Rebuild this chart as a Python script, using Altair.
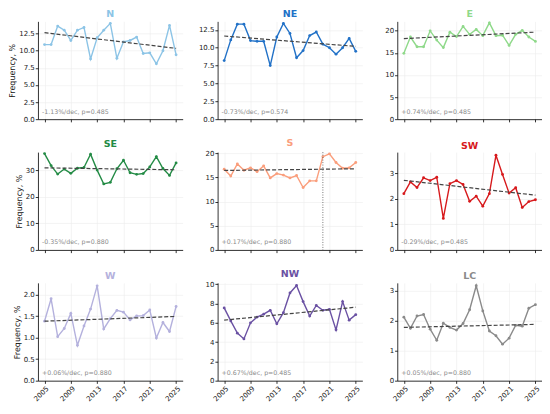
import altair as alt
import pandas as pd

FONT = "DejaVu Sans"

years = [2005, 2006, 2007, 2008, 2009, 2010, 2011, 2012, 2013, 2014, 2015,
         2016, 2017, 2018, 2019, 2020, 2021, 2022, 2023, 2024, 2025]
x_ticks = [2005, 2009, 2013, 2017, 2021, 2025]

names = ["N", "NE", "E", "SE", "S", "SW", "W", "NW", "LC"]
colors = ["#8cc4e6", "#2171c7", "#8fd98a", "#238b45", "#fa9e7c",
          "#d7191c", "#b4b1dd", "#6a51a3", "#8a8a8a"]

N = [10.9, 10.9, 13.6, 13.0, 11.5, 13.0, 13.4, 8.8, 11.9, 13.0, 14.0,
     8.9, 11.3, 11.5, 12.0, 9.6, 9.7, 8.1, 10.0, 13.7, 9.4]
NE = [8.2, 11.1, 13.3, 13.3, 11.0, 10.9, 10.9, 7.5, 11.5, 13.4, 12.0,
      8.6, 9.6, 11.7, 12.2, 10.5, 10.0, 9.1, 10.0, 11.3, 9.5]
E = [14.9, 18.6, 16.4, 16.4, 20.0, 17.9, 16.2, 19.7, 18.7, 21.0, 19.2,
     20.3, 18.9, 21.8, 18.9, 19.0, 16.7, 19.2, 20.1, 18.6, 17.6]
SE = [36.2, 31.7, 28.5, 30.4, 28.8, 30.7, 31.0, 36.0, 30.0, 24.8, 25.4,
      30.5, 33.7, 29.0, 28.4, 28.7, 31.2, 35.1, 30.6, 28.0, 32.7]
S = [16.7, 15.3, 17.8, 16.5, 17.0, 16.2, 17.4, 14.9, 15.8, 15.5, 14.9,
     15.4, 12.9, 14.3, 14.3, 19.3, 19.9, 18.1, 16.9, 17.0, 18.1]
SW = [2.20, 2.66, 2.44, 2.82, 2.71, 2.84, 1.23, 2.59, 2.71, 2.56, 1.90,
      2.10, 1.71, 2.20, 3.70, 2.95, 2.22, 2.43, 1.66, 1.89, 1.96]
W = [1.38, 1.90, 1.02, 1.21, 1.56, 0.82, 1.27, 1.66, 2.20, 1.20, 1.44,
     1.63, 1.59, 1.41, 1.50, 1.51, 1.64, 0.99, 1.35, 1.14, 1.72]
NW = [7.55, 6.20, 4.93, 4.33, 6.00, 6.60, 6.90, 7.30, 5.90, 7.05, 9.10,
      9.87, 8.20, 6.70, 7.80, 7.30, 7.40, 5.27, 8.20, 6.28, 6.85]
LC = [2.12, 1.75, 2.16, 2.21, 1.72, 1.35, 1.92, 1.78, 1.69, 1.91, 2.37,
      3.17, 2.33, 1.66, 1.50, 1.22, 1.42, 1.85, 1.82, 2.42, 2.54]
series = [N, NE, E, SE, S, SW, W, NW, LC]

trend_start = [12.64, 11.64, 18.24, 30.85, 16.45, 2.72, 1.38, 6.28, 1.78]
trend_end = [10.35, 10.19, 19.70, 30.12, 16.80, 2.14, 1.49, 7.62, 1.88]

trend_labels = ["-1.13%/dec, p=0.485", "-0.73%/dec, p=0.574", "+0.74%/dec, p=0.485",
                "-0.35%/dec, p=0.880", "+0.17%/dec, p=0.880", "-0.29%/dec, p=0.485",
                "+0.06%/dec, p=0.880", "+0.67%/dec, p=0.485", "+0.05%/dec, p=0.880"]

y_ticks = [[0, 2.5, 5, 7.5, 10, 12.5], [0, 2.5, 5, 7.5, 10, 12.5], [0, 5, 10, 15, 20],
           [0, 10, 20, 30], [0, 5, 10, 15, 20], [0, 1, 2, 3],
           [0, 0.5, 1.0, 1.5, 2.0], [0, 2, 4, 6, 8, 10], [0, 1, 2, 3]]
y_formats = [".1f", ".1f", "d", "d", "d", "d", ".1f", "d", "d"]

change_years = {"S": [2020]}

W_PANEL = 145
H_PANEL = 98


def panel(i):
    row, col = divmod(i, 3)
    vals = series[i]
    c = colors[i]
    top = max(vals) + 0.05 * (max(vals) - min(vals))
    df = pd.DataFrame({"year": years, "value": vals})
    xscale = alt.Scale(domain=[2004, 2026], nice=False, zero=False)
    yscale = alt.Scale(domain=[0, top], nice=False)
    xaxis = alt.Axis(values=x_ticks, tickCount=12, labels=(row == 2), labelAngle=-45,
                     format="d", title=None, labelAlign="right", labelBaseline="top",
                     labelPadding=1, labelOverlap=False, labelFlush=False)
    yaxis_kw = dict(values=y_ticks[i], tickCount=12, format=y_formats[i],
                    labelOverlap=False, labelFlush=False)
    if col == 0:
        yaxis = alt.Axis(title="Frequency, %", **yaxis_kw)
    else:
        yaxis = alt.Axis(title=None, **yaxis_kw)

    line = alt.Chart(df).mark_line(
        color=c, strokeWidth=1.4,
        point=alt.OverlayMarkDef(color=c, size=8, filled=True, opacity=1),
    ).encode(
        x=alt.X("year:Q", scale=xscale, axis=xaxis),
        y=alt.Y("value:Q", scale=yscale, axis=yaxis),
    )
    tdf = pd.DataFrame({"year": [years[0], years[-1]],
                        "value": [trend_start[i], trend_end[i]]})
    trend = alt.Chart(tdf).mark_line(
        color="#444444", strokeDash=[4, 2], strokeWidth=1.2
    ).encode(x="year:Q", y="value:Q")
    text = alt.Chart(pd.DataFrame({"t": [trend_labels[i]]})).mark_text(
        align="left", baseline="alphabetic", fontSize=6.3, color="#8a8a8a", font=FONT
    ).encode(x=alt.value(4), y=alt.value(H_PANEL - 5.5), text="t:N")
    layers = [line, trend, text]
    if names[i] in change_years:
        rdf = pd.DataFrame({"year": change_years[names[i]]})
        rule = alt.Chart(rdf).mark_rule(
            color="#555555", strokeDash=[1, 1.5], strokeWidth=0.8
        ).encode(x="year:Q")
        layers.append(rule)
    return alt.layer(*layers).properties(
        width=W_PANEL, height=H_PANEL,
        title=alt.TitleParams(names[i], color=c, fontSize=9.5, fontWeight="bold",
                              font=FONT, offset=2),
    )


chart = alt.concat(
    *[panel(i) for i in range(9)], columns=3,
    spacing={"row": 33, "column": 35}, bounds="flush",
).properties(
    padding={"left": 0, "top": 0, "right": 0, "bottom": 0}
).configure_view(
    strokeWidth=0
).configure_axis(
    domainColor="#000000", domainWidth=0.8, tickColor="#000000", tickSize=2.7,
    tickWidth=0.8, labelFont=FONT, labelFontSize=7, labelColor="#222222",
    gridColor="#ececec", gridWidth=0.6, titleFont=FONT, titleFontSize=8,
    titleFontWeight="normal", titleColor="#111111", labelPadding=1, titlePadding=2,
)

chart.save("out.html", embed_options={"renderer": "svg", "actions": False})
